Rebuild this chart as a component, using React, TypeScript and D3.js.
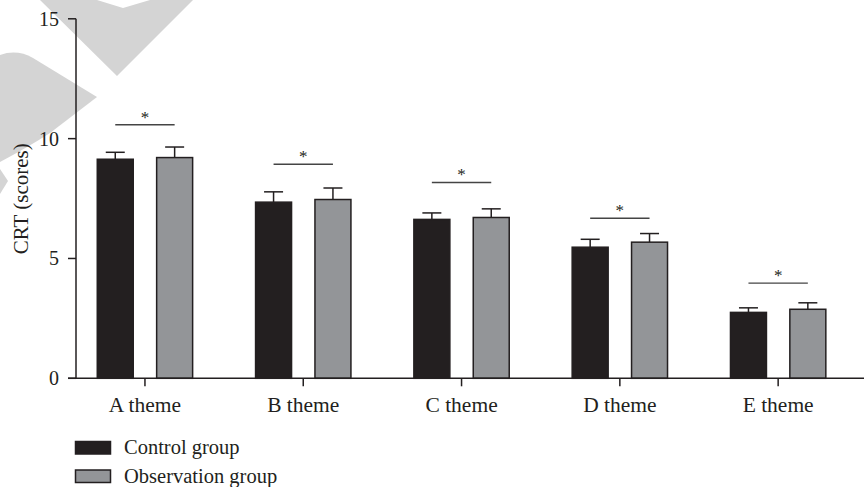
import React from 'react';
import * as d3 from 'd3';

const categories = ['A theme', 'B theme', 'C theme', 'D theme', 'E theme'];
const groups = ['Control group', 'Observation group'];
const controlMeans = [9.14, 7.35, 6.63, 5.47, 2.75];
const controlErr = [0.29, 0.43, 0.27, 0.33, 0.19];
const obsMeans = [9.21, 7.46, 6.71, 5.68, 2.88];
const obsErr = [0.44, 0.48, 0.36, 0.36, 0.27];
const sigLevel = [10.58, 8.93, 8.17, 6.68, 3.97];
const yTicks = [0, 5, 10, 15];

const W = 864;
const H = 487;
const INK = '#231f20';
const FILLS = ['#231f20', '#939598'];
const FONT = '"Liberation Serif", "Times New Roman", serif';

export default function App() {
  const y = d3.scaleLinear().domain([0, 15]).range([378.3, 18.8]);
  const x = d3.scaleBand<string>().domain(categories).range([65.8, 857.3]).padding(0);
  const xg = d3.scaleBand<string>().domain(groups).range([0, x.bandwidth()]).paddingInner(0.394).paddingOuter(0.53);
  const axisX = 76;
  const series = [
    { name: groups[0], means: controlMeans, errs: controlErr },
    { name: groups[1], means: obsMeans, errs: obsErr },
  ];
  const bw = xg.bandwidth();
  const capW = 19;

  return (
    <svg width={W} height={H} style={{ position: 'absolute', left: 0, top: 0, background: '#fff' }} fontFamily={FONT}>
      {/* watermark */}
      <g fill="#d4d4d4">
        <path d="M40,0 L117,76 L193,0 L150,0 L123,8 L97,0 Z" />
        <path d="M0,55 Q17,49 33,58 L97,97 L50,133 Q30,146 0,162 Z" />
        <path d="M0,169 L8,181 L0,194 Z" />
      </g>
      {/* bars */}
      {series.map((s, si) => (
        <g key={s.name}>
          {categories.map((c, i) => {
            const bx = (x(c) ?? 0) + (xg(s.name) ?? 0);
            const cx = bx + bw / 2;
            const top = y(s.means[i]);
            const errTop = y(s.means[i] + s.errs[i]);
            return (
              <g key={c}>
                <line x1={cx} x2={cx} y1={top} y2={errTop} stroke={INK} strokeWidth={1.5} />
                <line x1={cx - capW / 2} x2={cx + capW / 2} y1={errTop} y2={errTop} stroke={INK} strokeWidth={1.5} />
                <rect x={bx} y={top} width={bw} height={y(0) - top} fill={FILLS[si]} stroke={INK} strokeWidth={1.5} />
              </g>
            );
          })}
        </g>
      ))}
      {/* significance */}
      {categories.map((c, i) => {
        const x1 = (x(c) ?? 0) + (xg(groups[0]) ?? 0) + bw / 2;
        const x2 = (x(c) ?? 0) + (xg(groups[1]) ?? 0) + bw / 2;
        const ly = y(sigLevel[i]);
        return (
          <g key={'sig' + c}>
            <line x1={x1} x2={x2} y1={ly} y2={ly} stroke="#444" strokeWidth={1.4} />
            <text x={(x1 + x2) / 2} y={ly - 2} textAnchor="middle" fontSize={17} fill={INK}>*</text>
          </g>
        );
      })}
      {/* y axis */}
      <line x1={axisX} x2={axisX} y1={y(15)} y2={y(0)} stroke={INK} strokeWidth={1.5} />
      {yTicks.map((t) => (
        <g key={'yt' + t}>
          <line x1={axisX - 8} x2={axisX} y1={y(t)} y2={y(t)} stroke={INK} strokeWidth={1.5} />
          <text x={59} y={y(t)} dy="0.35em" textAnchor="end" fontSize={20} fill={INK}>{t}</text>
        </g>
      ))}
      {/* x axis */}
      <line x1={68} x2={W} y1={y(0)} y2={y(0)} stroke={INK} strokeWidth={1.5} />
      {categories.map((c) => {
        const cx = (x(c) ?? 0) + x.bandwidth() / 2;
        return (
          <g key={'xt' + c}>
            <line x1={cx} x2={cx} y1={y(0)} y2={y(0) + 8} stroke={INK} strokeWidth={1.5} />
            <text x={cx} y={411.5} textAnchor="middle" fontSize={21.5} fill={INK}>{c}</text>
          </g>
        );
      })}
      <text transform={`translate(27.5,198.7) rotate(-90)`} textAnchor="middle" fontSize={21} fill={INK}>CRT (scores)</text>
      {/* legend */}
      {groups.map((g, i) => (
        <g key={'lg' + g} transform={`translate(0,${i * 28.5})`}>
          <rect x={75.5} y={441.5} width={35} height={12.5} fill={FILLS[i]} stroke={INK} strokeWidth={1.5} />
          <text x={124} y={454} fontSize={20.5} fill={INK}>{g}</text>
        </g>
      ))}
    </svg>
  );
}
